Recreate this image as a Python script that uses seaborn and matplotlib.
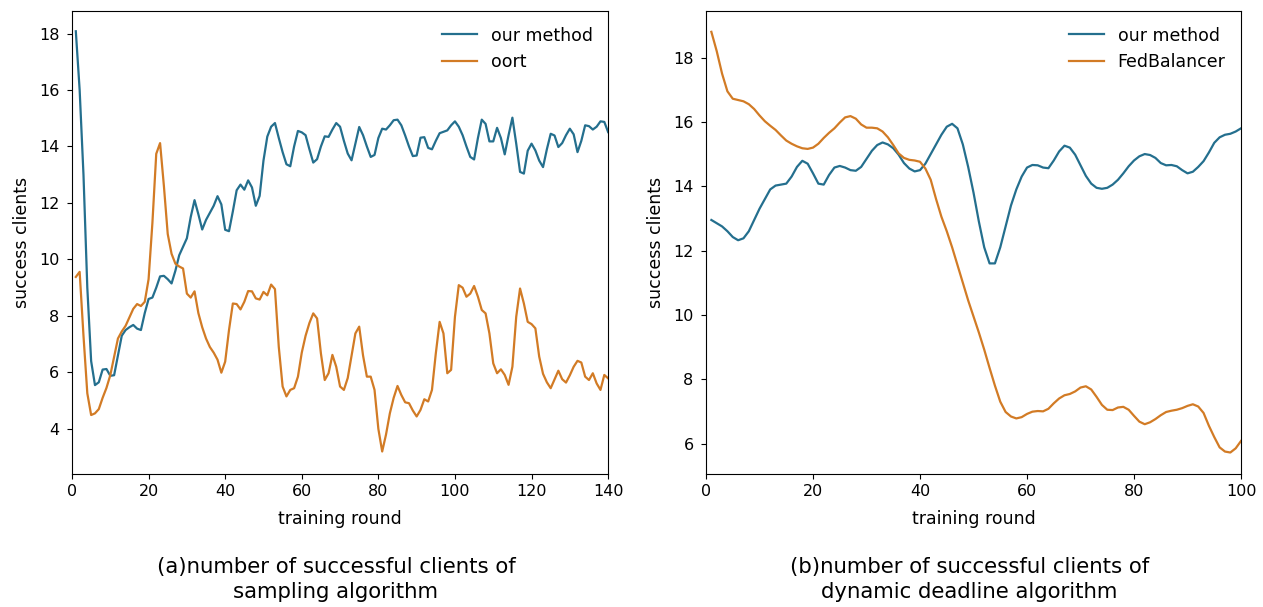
import numpy as np
import pandas as pd
import matplotlib
matplotlib.use("Agg")
import matplotlib.pyplot as plt
import seaborn as sns

# ---------------- data (a): sampling algorithm ----------------
rounds_a = list(range(1, 141))
ours_a = [18.08, 16.0, 13.0, 9.0, 6.4, 5.55, 5.65, 6.1, 6.12, 5.88,
          5.9, 6.6, 7.3, 7.5, 7.6, 7.68, 7.55, 7.5, 8.1, 8.6,
          8.65, 9.0, 9.4, 9.42, 9.3, 9.15, 9.6, 10.15, 10.45, 10.75,
          11.5, 12.1, 11.6, 11.06, 11.4, 11.65, 11.9, 12.24, 11.95, 11.05,
          11.0, 11.7, 12.45, 12.65, 12.47, 12.8, 12.55, 11.9, 12.25, 13.5,
          14.35, 14.7, 14.83, 14.3, 13.8, 13.37, 13.3, 14.0, 14.55, 14.5,
          14.4, 13.9, 13.43, 13.55, 14.0, 14.36, 14.34, 14.6, 14.83, 14.7,
          14.2, 13.75, 13.51, 14.1, 14.69, 14.4, 14.0, 13.63, 13.7, 14.3,
          14.63, 14.6, 14.75, 14.93, 14.95, 14.75, 14.39, 14.0, 13.66, 13.68,
          14.31, 14.33, 13.95, 13.9, 14.2, 14.47, 14.52, 14.57, 14.75, 14.89,
          14.7, 14.4, 14.0, 13.63, 13.54, 14.3, 14.95, 14.8, 14.18, 14.18,
          14.66, 14.3, 13.72, 14.4, 15.02, 14.1, 13.1, 13.04, 13.85, 14.1,
          13.86, 13.5, 13.27, 13.9, 14.45, 14.39, 13.98, 14.12, 14.4, 14.63,
          14.43, 13.8, 14.2, 14.75, 14.72, 14.6, 14.7, 14.89, 14.87, 14.51]
oort_a = [9.38, 9.56, 7.3, 5.26, 4.49, 4.55, 4.7, 5.1, 5.45, 5.9,
          6.55, 7.2, 7.45, 7.65, 7.95, 8.25, 8.42, 8.35, 8.5, 9.3,
          11.3, 13.74, 14.12, 12.6, 10.9, 10.2, 9.85, 9.75, 9.68, 8.79,
          8.65, 8.87, 8.1, 7.6, 7.2, 6.9, 6.7, 6.45, 5.99, 6.38,
          7.5, 8.44, 8.42, 8.23, 8.5, 8.88, 8.87, 8.62, 8.58, 8.85,
          8.73, 9.11, 8.95, 6.9, 5.5, 5.15, 5.38, 5.44, 5.85, 6.7,
          7.3, 7.75, 8.09, 7.91, 6.67, 5.73, 5.97, 6.62, 6.2, 5.5,
          5.38, 5.8, 6.6, 7.38, 7.62, 6.6, 5.85, 5.85, 5.38, 4.0,
          3.2, 3.8, 4.55, 5.1, 5.52, 5.2, 4.94, 4.91, 4.65, 4.44,
          4.67, 5.05, 4.97, 5.38, 6.67, 7.79, 7.38, 5.97, 6.09, 7.97,
          9.09, 9.0, 8.68, 8.79, 9.06, 8.68, 8.21, 8.09, 7.38, 6.32,
          5.97, 6.11, 5.91, 5.56, 6.2, 7.97, 8.97, 8.44, 7.79, 7.71,
          7.56, 6.56, 5.95, 5.65, 5.44, 5.75, 6.06, 5.76, 5.64, 5.9,
          6.2, 6.41, 6.35, 5.85, 5.73, 5.97, 5.61, 5.38, 5.91, 5.79]

# ---------------- data (b): dynamic deadline algorithm ----------------
rounds_b = list(range(1, 101))
ours_b = [12.95, 12.85, 12.75, 12.6, 12.42, 12.32, 12.38, 12.6, 12.95, 13.3,
          13.6, 13.9, 14.02, 14.05, 14.08, 14.3, 14.6, 14.79, 14.7, 14.4,
          14.08, 14.05, 14.35, 14.58, 14.63, 14.58, 14.5, 14.48, 14.6, 14.85,
          15.1, 15.28, 15.36, 15.3, 15.18, 14.98, 14.72, 14.55, 14.46, 14.5,
          14.7, 15.0, 15.3, 15.6, 15.85, 15.94, 15.8, 15.3, 14.6, 13.8,
          12.9, 12.1, 11.6, 11.6, 12.1, 12.75, 13.4, 13.9, 14.3, 14.58,
          14.66, 14.65, 14.58, 14.56, 14.8, 15.08, 15.26, 15.2, 14.98, 14.65,
          14.32, 14.08, 13.95, 13.92, 13.95, 14.05, 14.2, 14.4, 14.62, 14.8,
          14.93, 15.0, 14.97, 14.88, 14.72, 14.65, 14.66, 14.62, 14.5, 14.4,
          14.45, 14.6, 14.78, 15.05, 15.35, 15.52, 15.6, 15.63, 15.7, 15.8]
fedbal_b = [18.8, 18.2, 17.5, 16.95, 16.72, 16.68, 16.64, 16.55, 16.4, 16.2,
            16.02, 15.88, 15.75, 15.58, 15.42, 15.32, 15.24, 15.18, 15.16, 15.2,
            15.32, 15.5, 15.66, 15.8, 15.98, 16.14, 16.18, 16.1, 15.92, 15.82,
            15.82, 15.8, 15.7, 15.52, 15.28, 15.02, 14.88, 14.82, 14.8, 14.76,
            14.55, 14.2, 13.6, 13.05, 12.6, 12.1, 11.55, 11.0, 10.45, 9.95,
            9.45, 8.92, 8.35, 7.8, 7.3, 6.98, 6.84, 6.78, 6.82, 6.92,
            6.99, 7.01, 7.0, 7.08, 7.25, 7.4, 7.5, 7.54, 7.62, 7.74,
            7.78, 7.68, 7.45, 7.2, 7.05, 7.04, 7.12, 7.14, 7.05, 6.86,
            6.68, 6.6, 6.66, 6.76, 6.88, 6.98, 7.02, 7.05, 7.1, 7.17,
            7.22, 7.15, 6.95, 6.55, 6.2, 5.88, 5.75, 5.72, 5.85, 6.08]

labels_a = ["our method", "oort"]
labels_b = ["our method", "FedBalancer"]
captions = ["(a)number of successful clients of\nsampling algorithm",
            "(b)number of successful clients of\ndynamic deadline algorithm"]
xlabel = "training round"
ylabel = "success clients"

BLUE = "#246f8e"
ORANGE = "#d27b25"

df_a = pd.DataFrame({
    "round": rounds_a * 2,
    "value": ours_a + oort_a,
    "method": [labels_a[0]] * len(rounds_a) + [labels_a[1]] * len(rounds_a),
})
df_b = pd.DataFrame({
    "round": rounds_b * 2,
    "value": ours_b + fedbal_b,
    "method": [labels_b[0]] * len(rounds_b) + [labels_b[1]] * len(rounds_b),
})

plt.rcParams["font.family"] = ["DejaVu Sans"]
fig = plt.figure(figsize=(12.63, 6.07), dpi=100)
ax1 = fig.add_axes([0.057, 0.219, 0.4245, 0.763])
ax2 = fig.add_axes([0.559, 0.219, 0.4236, 0.763])

for ax, df, labels, xmax in [(ax1, df_a, labels_a, 140), (ax2, df_b, labels_b, 100)]:
    sns.lineplot(data=df, x="round", y="value", hue="method", hue_order=labels,
                 palette=[BLUE, ORANGE], linewidth=1.6, ax=ax)
    ax.set_xlim(0, xmax)
    ax.set_xlabel(xlabel, fontsize=12.5, labelpad=8)
    ax.set_ylabel(ylabel, fontsize=12.5, labelpad=6)
    ax.tick_params(labelsize=11.5)
    ax.tick_params(axis="y", pad=5.5)
    ax.legend(loc="upper right", frameon=False, fontsize=12.5, title=None)

ax1.set_ylim(2.4, 18.8)
ax2.set_ylim(5.05, 19.45)

fig.text(0.266, 0.0455, captions[0], ha="center", va="center", fontsize=15.3, linespacing=1.3)
fig.text(0.7676, 0.0455, captions[1], ha="center", va="center", fontsize=15.3, linespacing=1.3)

fig.savefig("out.png", dpi=100)
